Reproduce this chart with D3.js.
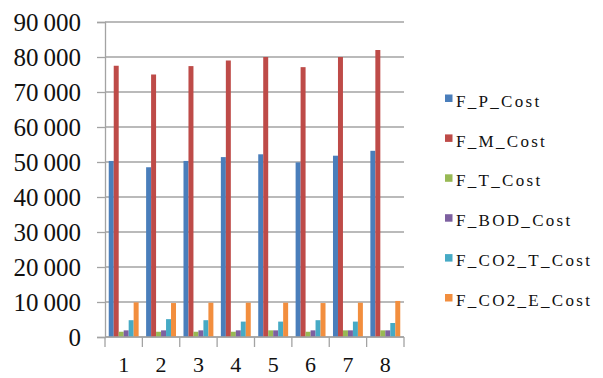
<!DOCTYPE html>
<html>
<head>
<meta charset="utf-8">
<script src="https://cdn.jsdelivr.net/npm/d3@7"></script>
<style>
  html, body { margin: 0; padding: 0; background: #fff; }
  svg { display: block; }
  text.serif { font-family: "Liberation Serif", Tinos, "Times New Roman", Times, "DejaVu Serif", serif; }
</style>
</head>
<body>
<svg id="chart" width="603" height="378"></svg>
<script>
// Cost components per case
const categories = ["1", "2", "3", "4", "5", "6", "7", "8"];
const seriesNames = ["F_P_Cost", "F_M_Cost", "F_T_Cost", "F_BOD_Cost", "F_CO2_T_Cost", "F_CO2_E_Cost"];
const F_P_Cost     = [50300, 48500, 50300, 51400, 52200, 49900, 51800, 53200];
const F_M_Cost     = [77500, 75000, 77400, 79000, 80000, 77100, 80000, 82000];
const F_T_Cost     = [1500, 1500, 1500, 1500, 1900, 1500, 1900, 1900];
const F_BOD_Cost   = [1900, 1900, 1900, 1900, 1900, 1900, 1900, 1900];
const F_CO2_T_Cost = [4800, 5100, 4800, 4400, 4400, 4800, 4400, 4000];
const F_CO2_E_Cost = [9900, 9700, 9800, 9800, 9800, 9700, 9800, 10300];
const yTicks = [0, 10000, 20000, 30000, 40000, 50000, 60000, 70000, 80000, 90000];
const colors = ["#4A7EBB", "#BE4B48", "#98B954", "#7D60A0", "#46AAC5", "#F28E3E"];

const seriesValues = [F_P_Cost, F_M_Cost, F_T_Cost, F_BOD_Cost, F_CO2_T_Cost, F_CO2_E_Cost];

const svg = d3.select("#chart");
const plot = { left: 105, right: 404, top: 22, bottom: 337 };

const x = d3.scaleBand().domain(categories).range([plot.left, plot.right]).padding(0);
const xInner = d3.scaleBand().domain(seriesNames).range([0, x.bandwidth()])
  .paddingInner(0).paddingOuter(0.75);
const y = d3.scaleLinear().domain([0, 90000]).range([plot.bottom, plot.top]);

const locale = d3.formatLocale({ decimal: ".", thousands: "\u2009", grouping: [3], currency: ["", ""] });
const fmt = locale.format(",d");

const gridColor = "#a3a3a3";

// Horizontal gridlines
svg.append("g")
  .selectAll("line")
  .data(yTicks)
  .join("line")
  .attr("x1", plot.left).attr("x2", plot.right)
  .attr("y1", d => y(d)).attr("y2", d => y(d))
  .attr("stroke", gridColor).attr("stroke-width", 1.3);

// Y axis
const yAxis = svg.append("g")
  .attr("transform", `translate(${plot.left},0)`)
  .call(d3.axisLeft(y).tickValues(yTicks).tickFormat(fmt).tickSize(8).tickPadding(16));
yAxis.attr("font-family", null).attr("font-size", null);
yAxis.select(".domain").attr("stroke", gridColor).attr("stroke-width", 1.3);
yAxis.selectAll(".tick line").attr("stroke", gridColor).attr("stroke-width", 1.3);
yAxis.selectAll(".tick text")
  .attr("class", "serif")
  .style("font-size", "25px").attr("fill", "#111")
  .attr("dy", "0.34em");

// Bars
const groups = svg.append("g")
  .selectAll("g")
  .data(categories)
  .join("g")
  .attr("transform", d => `translate(${x(d)},0)`);

groups.selectAll("rect")
  .data((c, i) => seriesNames.map((s, k) => ({ s, k, v: seriesValues[k][i] })))
  .join("rect")
  .attr("x", d => xInner(d.s))
  .attr("width", xInner.bandwidth())
  .attr("y", d => y(d.v))
  .attr("height", d => y(0) - y(d.v))
  .attr("fill", d => colors[d.k]);

// X axis with boundary ticks
const xAxisG = svg.append("g").attr("transform", `translate(0,${plot.bottom})`);
xAxisG.append("line")
  .attr("x1", plot.left).attr("x2", plot.right)
  .attr("stroke", gridColor).attr("stroke-width", 1.3);
const boundaries = categories.map(c => x(c)).concat([x(categories[categories.length - 1]) + x.bandwidth()]);
xAxisG.selectAll("line.tk")
  .data(boundaries)
  .join("line")
  .attr("class", "tk")
  .attr("x1", d => d).attr("x2", d => d)
  .attr("y1", 0).attr("y2", 10)
  .attr("stroke", gridColor).attr("stroke-width", 1.3);
xAxisG.selectAll("text")
  .data(categories)
  .join("text")
  .attr("class", "serif")
  .attr("x", d => x(d) + x.bandwidth() / 2)
  .attr("y", 35)
  .attr("text-anchor", "middle")
  .style("font-size", "22px").attr("fill", "#111")
  .text(d => d);

// Legend
const legend = svg.append("g");
const legendItems = legend.selectAll("g")
  .data(seriesNames)
  .join("g")
  .attr("transform", (d, i) => `translate(445,${98.3 + i * 39.9})`);
legendItems.append("rect")
  .attr("x", 0).attr("y", -3.8)
  .attr("width", 7.5).attr("height", 7.5)
  .attr("fill", (d, i) => colors[i]);
legendItems.append("text")
  .attr("class", "serif")
  .attr("x", 11).attr("y", 8.3)
  .style("font-size", "17px")
  .attr("letter-spacing", 2.3)
  .attr("fill", "#111")
  .text(d => d);
</script>
</body>
</html>
